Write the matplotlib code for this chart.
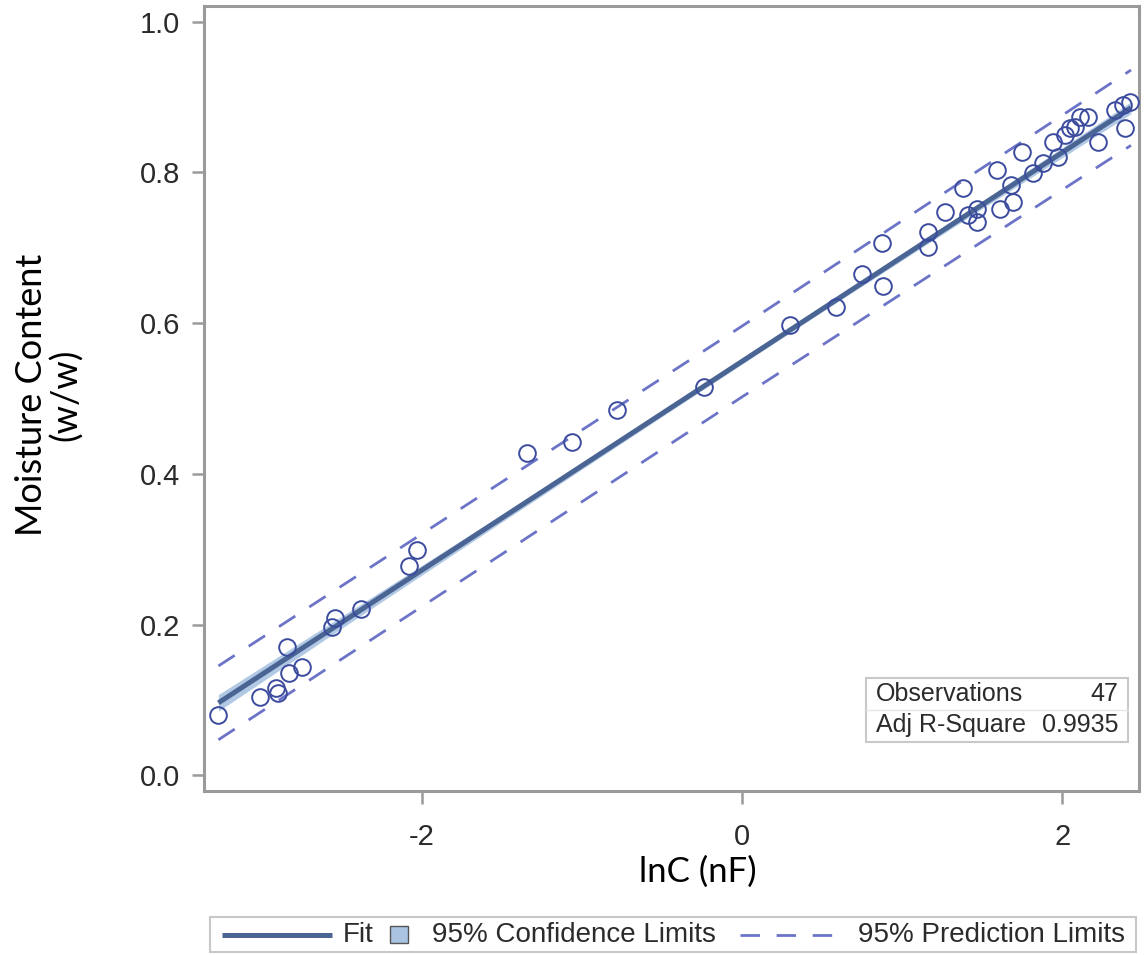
import matplotlib
matplotlib.use("Agg")
import matplotlib.pyplot as plt
from matplotlib.lines import Line2D
from matplotlib.patches import Rectangle
import numpy as np

plt.rcParams['axes.unicode_minus'] = False
plt.rcParams['font.family'] = ['Liberation Sans', 'DejaVu Sans']

# observed points: lnC (nF) vs moisture content (w/w)
lnc = [-3.27, -3.01, -2.91, -2.90, -2.84, -2.83, -2.75, -2.56, -2.54, -2.38,
       -2.08, -2.03, -1.34, -1.06, -0.78, -0.24, 0.30, 0.59, 0.75, 0.88,
       0.875, 1.16, 1.16, 1.27, 1.38, 1.41, 1.47, 1.47, 1.59, 1.61,
       1.69, 1.68, 1.75, 1.82, 1.88, 1.975, 1.94, 2.02, 2.05, 2.08,
       2.11, 2.16, 2.225, 2.33, 2.38, 2.425, 2.39]
moist = [0.080, 0.104, 0.116, 0.109, 0.170, 0.135, 0.143, 0.197, 0.208, 0.220,
         0.278, 0.299, 0.428, 0.442, 0.485, 0.515, 0.598, 0.622, 0.665, 0.649,
         0.707, 0.721, 0.701, 0.748, 0.780, 0.744, 0.752, 0.734, 0.803, 0.752,
         0.761, 0.784, 0.827, 0.799, 0.813, 0.821, 0.841, 0.850, 0.859, 0.861,
         0.873, 0.874, 0.841, 0.883, 0.890, 0.894, 0.859]

# fitted line
fit_x = [-3.27, 2.43]
fit_y = [0.096, 0.886]

# 95% confidence band
ci_x = [-3.27, -2.5, -1.5, -0.5, 0.5, 1.5, 2.43]
ci_lo = [0.085, 0.195, 0.336, 0.476, 0.615, 0.752, 0.878]
ci_hi = [0.107, 0.211, 0.346, 0.484, 0.623, 0.762, 0.894]

# 95% prediction limits
pl_x = [-3.27, 0.0, 2.43]
pl_lo = [0.047, 0.502, 0.836]
pl_hi = [0.145, 0.596, 0.936]

n_obs = 47
adj_r2 = 0.9935

c_marker = '#3b4b9e'
c_fit = '#4a6593'
c_band = '#a9c3e1'
c_pred = '#6c74c8'
c_axis = '#9a9a9a'
c_text = '#2b2b2b'
dash = (0, (7, 6))

W, H = 1146, 955
fig = plt.figure(figsize=(W / 100, H / 100), dpi=100)
ax = fig.add_axes([204 / W, 1 - 791 / H, (1139 - 204) / W, (791 - 6) / H])

ax.fill_between(ci_x, ci_lo, ci_hi, color=c_band, lw=0, alpha=0.9, zorder=1)
ax.plot(fit_x, fit_y, color=c_fit, lw=3.6, solid_capstyle='butt', zorder=2)
ax.plot(pl_x, pl_hi, color=c_pred, lw=2.0, ls=dash, zorder=2)
ax.plot(pl_x, pl_lo, color=c_pred, lw=2.0, ls=dash, zorder=2)
ax.plot(lnc, moist, ls='none', marker='o', ms=12, mfc='none', mec=c_marker,
        mew=1.4, zorder=3)

ax.set_xlim(-3.36, 2.48)
ax.set_ylim(-0.021, 1.021)
ax.set_xticks([-2, 0, 2])
ax.set_xticklabels(['-2', '0', '2'])
ax.set_yticks([0.0, 0.2, 0.4, 0.6, 0.8, 1.0])
ax.set_yticklabels(['0.0', '0.2', '0.4', '0.6', '0.8', '1.0'])
ax.tick_params(direction='out', length=9, width=1.8, color=c_axis,
               labelsize=21, labelcolor=c_text)
ax.tick_params(axis='y', pad=8)
ax.tick_params(axis='x', pad=14)
for s in ax.spines.values():
    s.set_color(c_axis)
    s.set_linewidth(2.2)

# statistics inset
ax.add_patch(Rectangle((0.708, 0.0624), 0.280, 0.0816, transform=ax.transAxes,
                       fill=False, ec='#c8c8c8', lw=1.5, zorder=4))
ax.plot([0.708, 0.988], [0.1032, 0.1032], transform=ax.transAxes,
        color='#e6e6e6', lw=1, zorder=4)
ax.text(0.719, 0.1236, 'Observations', transform=ax.transAxes, fontsize=18,
        color=c_text, va='center', ha='left')
ax.text(0.978, 0.1236, str(n_obs), transform=ax.transAxes, fontsize=18,
        color=c_text, va='center', ha='right')
ax.text(0.719, 0.0841, 'Adj R-Square', transform=ax.transAxes, fontsize=18,
        color=c_text, va='center', ha='left')
ax.text(0.978, 0.0841, f'{adj_r2:.4f}', transform=ax.transAxes, fontsize=18,
        color=c_text, va='center', ha='right')

# axis titles
fig.text(49 / W, 1 - 395 / H, 'Moisture Content\n(w/w)', rotation=90,
         ha='center', va='center', fontsize=26, family=['Lato', 'DejaVu Sans'],
         color='black', linespacing=1.05)
fig.text(698 / W, 1 - 872 / H, 'lnC (nF)', ha='center', va='center',
         fontsize=25, family=['Lato', 'DejaVu Sans'], color='black')

# legend below the plot
ly = 1 - 934.5 / H
fig.add_artist(Rectangle((210 / W, 1 - 952 / H), (1136 - 210) / W, 35 / H,
                         transform=fig.transFigure, fill=False, ec='#c8c8c8', lw=1.5))
fig.add_artist(Line2D([222 / W, 332 / W], [ly, ly], transform=fig.transFigure,
                      color=c_fit, lw=3.6, solid_capstyle='butt'))
fig.text(343 / W, ly, 'Fit', fontsize=20, color=c_text, va='center', ha='left')
fig.add_artist(Rectangle((390 / W, 1 - 943 / H), 18 / W, 17 / H,
                         transform=fig.transFigure, fc=c_band, ec='#555555', lw=1))
fig.text(432 / W, ly, '95% Confidence Limits', fontsize=20, color=c_text,
         va='center', ha='left')
fig.add_artist(Line2D([740 / W, 845 / W], [ly, ly], transform=fig.transFigure,
                      color=c_pred, lw=2.0, ls=dash))
fig.text(858 / W, ly, '95% Prediction Limits', fontsize=20, color=c_text,
         va='center', ha='left')

fig.savefig('out.png', dpi=100)
